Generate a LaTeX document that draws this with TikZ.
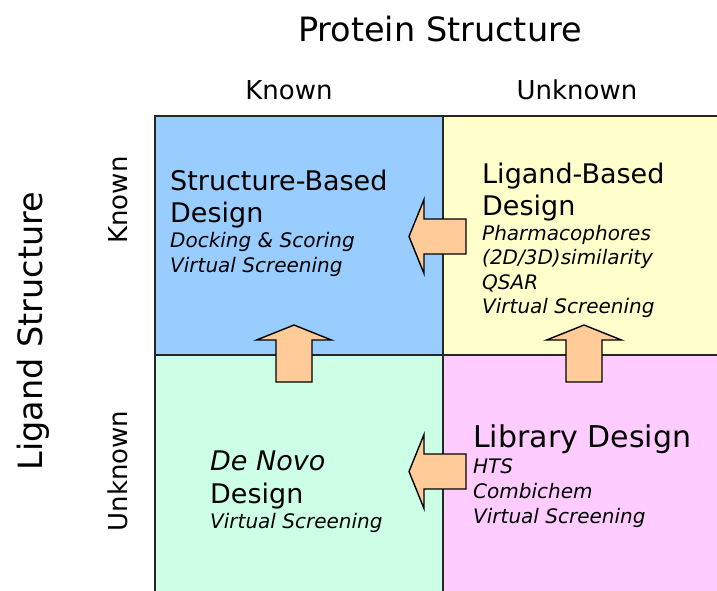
\documentclass[tikz,border=0pt]{standalone}
\usepackage{fontspec}
\setmainfont{DejaVu Sans}
\definecolor{cblue}{HTML}{99CCFF}
\definecolor{cyellow}{HTML}{FFFFCC}
\definecolor{cmint}{HTML}{CCFFE6}
\definecolor{cpink}{HTML}{FFCCFF}
\definecolor{cpeach}{HTML}{FFCC99}
\definecolor{cline}{HTML}{262626}
\tikzset{
  cell/.style={draw=cline, line width=2pt},
  blockarr/.style={draw=black, line width=1.4pt, fill=cpeach, line join=miter},
  big/.style={anchor=base west, inner sep=0pt, font=\fontsize{27}{32}\selectfont},
  bigit/.style={big, font=\fontsize{27}{32}\selectfont\itshape},
  lib/.style={anchor=base west, inner sep=0pt, font=\fontsize{30}{36}\selectfont},
  small/.style={anchor=base west, inner sep=0pt, font=\fontsize{20}{24}\selectfont\itshape},
  head/.style={anchor=base, inner sep=0pt, font=\fontsize{26}{30}\selectfont},
  title/.style={anchor=base, inner sep=0pt, font=\fontsize{33.5}{38}\selectfont},
  leftarrow/.pic={\path[blockarr] (0,0) -- (15,-37) -- (15,-17.5) -- (57,-17.5) -- (57,17.5) -- (15,17.5) -- (15,37) -- cycle;},
  uparrow/.pic={\path[blockarr] (0,0) -- (-37.5,15) -- (-18,15) -- (-18,57) -- (18,57) -- (18,15) -- (37.5,15) -- cycle;}
}
\begin{document}
\begin{tikzpicture}[x=1pt, y=-1pt]
\useasboundingbox (0,0) rectangle (717,590);
\clip (0,0) rectangle (717,590);
\fill[white] (0,0) rectangle (717,590);
% cells
\draw[cell, fill=cblue]   (155,116) rectangle (443,355);
\draw[cell, fill=cyellow] (443,116) rectangle (730,355);
\draw[cell, fill=cmint]   (155,355) rectangle (443,600);
\draw[cell, fill=cpink]   (443,355) rectangle (730,600);
% headers
\node[title] (ptitle) at (440,41) {Protein Structure};
\node[head] (pknown) at (289,99) {Known};
\node[head] (punknown) at (577,99) {Unknown};
\node[title, rotate=90] (ltitle) at (42,331) {Ligand Structure};
\node[head, rotate=90] (lknown) at (127,200) {Known};
\node[head, rotate=90] (lunknown) at (127,471) {Unknown};
% top-left
\node[big] (sb1) at (170,190) {Structure-Based};
\node[big] (sb2) at (170,222) {Design};
\node[small] (sb3) at (170,247) {Docking \& Scoring};
\node[small] (sb4) at (170,272) {Virtual Screening};
% top-right
\node[big] (lb1) at (482,183) {Ligand-Based};
\node[big] (lb2) at (482,215) {Design};
\node[small] (lb3) at (482,240) {Pharmacophores};
\node[small] (lb4) at (482,264.5) {(2D/3D)similarity};
\node[small] (lb5) at (482,289) {QSAR};
\node[small] (lb6) at (482,313.5) {Virtual Screening};
% bottom-left
\node[bigit] (dn1) at (210,470) {De Novo};
\node[big] (dn2) at (210,503) {Design};
\node[small] (dn3) at (210,528) {Virtual Screening};
% bottom-right
\node[lib] (ld1) at (473,447) {Library Design};
\node[small] (ld2) at (473,473) {HTS};
\node[small] (ld3) at (473,498) {Combichem};
\node[small] (ld4) at (473,523) {Virtual Screening};
% block arrows
\pic at (409,236.5) {leftarrow};
\pic at (409,471.5) {leftarrow};
\pic at (294,325) {uparrow};
\pic at (584,325) {uparrow};
\end{tikzpicture}
\end{document}
